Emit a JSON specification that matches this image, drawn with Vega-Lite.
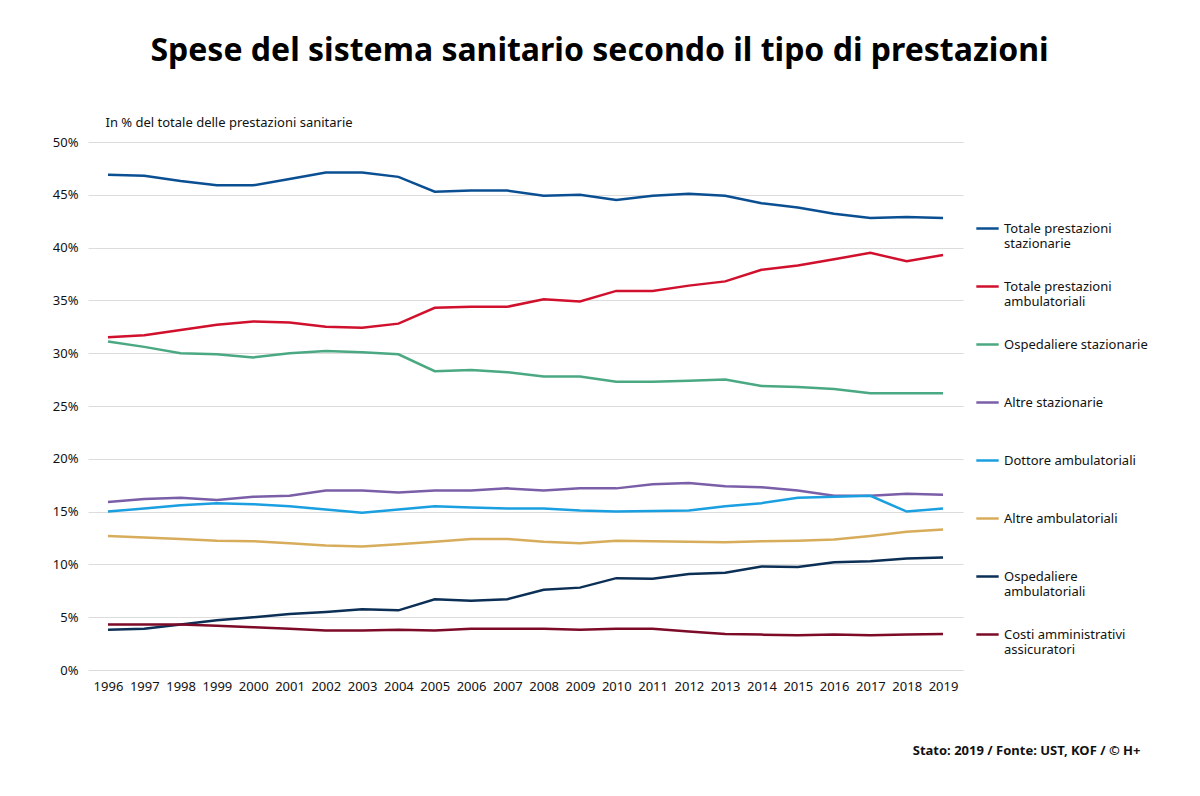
{
  "$schema": "https://vega.github.io/schema/vega-lite/v6.json",
  "width": 875,
  "height": 528,
  "autosize": {"type": "none"},
  "padding": {"left": 88, "top": 142, "right": 237, "bottom": 126},
  "background": "white",
  "config": {
    "view": {"stroke": null},
    "font": "Noto Sans"
  },
  "title": {
    "text": "Spese del sistema sanitario secondo il tipo di prestazioni",
    "font": "Noto Sans",
    "fontWeight": "bold",
    "fontSize": 32,
    "color": "#000000",
    "anchor": "middle",
    "frame": "group",
    "dx": 74,
    "offset": 48
  },
  "datasets": {
    "d": [
      {"s":"Totale prestazioni stazionarie","y":"1996","v":46.9},{"s":"Totale prestazioni stazionarie","y":"1997","v":46.8},{"s":"Totale prestazioni stazionarie","y":"1998","v":46.3},{"s":"Totale prestazioni stazionarie","y":"1999","v":45.9},{"s":"Totale prestazioni stazionarie","y":"2000","v":45.9},{"s":"Totale prestazioni stazionarie","y":"2001","v":46.5},{"s":"Totale prestazioni stazionarie","y":"2002","v":47.1},{"s":"Totale prestazioni stazionarie","y":"2003","v":47.1},{"s":"Totale prestazioni stazionarie","y":"2004","v":46.7},{"s":"Totale prestazioni stazionarie","y":"2005","v":45.3},{"s":"Totale prestazioni stazionarie","y":"2006","v":45.4},{"s":"Totale prestazioni stazionarie","y":"2007","v":45.4},{"s":"Totale prestazioni stazionarie","y":"2008","v":44.9},{"s":"Totale prestazioni stazionarie","y":"2009","v":45.0},{"s":"Totale prestazioni stazionarie","y":"2010","v":44.5},{"s":"Totale prestazioni stazionarie","y":"2011","v":44.9},{"s":"Totale prestazioni stazionarie","y":"2012","v":45.1},{"s":"Totale prestazioni stazionarie","y":"2013","v":44.9},{"s":"Totale prestazioni stazionarie","y":"2014","v":44.2},{"s":"Totale prestazioni stazionarie","y":"2015","v":43.8},{"s":"Totale prestazioni stazionarie","y":"2016","v":43.2},{"s":"Totale prestazioni stazionarie","y":"2017","v":42.8},{"s":"Totale prestazioni stazionarie","y":"2018","v":42.9},{"s":"Totale prestazioni stazionarie","y":"2019","v":42.8},
      {"s":"Totale prestazioni ambulatoriali","y":"1996","v":31.5},{"s":"Totale prestazioni ambulatoriali","y":"1997","v":31.7},{"s":"Totale prestazioni ambulatoriali","y":"1998","v":32.2},{"s":"Totale prestazioni ambulatoriali","y":"1999","v":32.7},{"s":"Totale prestazioni ambulatoriali","y":"2000","v":33.0},{"s":"Totale prestazioni ambulatoriali","y":"2001","v":32.9},{"s":"Totale prestazioni ambulatoriali","y":"2002","v":32.5},{"s":"Totale prestazioni ambulatoriali","y":"2003","v":32.4},{"s":"Totale prestazioni ambulatoriali","y":"2004","v":32.8},{"s":"Totale prestazioni ambulatoriali","y":"2005","v":34.3},{"s":"Totale prestazioni ambulatoriali","y":"2006","v":34.4},{"s":"Totale prestazioni ambulatoriali","y":"2007","v":34.4},{"s":"Totale prestazioni ambulatoriali","y":"2008","v":35.1},{"s":"Totale prestazioni ambulatoriali","y":"2009","v":34.9},{"s":"Totale prestazioni ambulatoriali","y":"2010","v":35.9},{"s":"Totale prestazioni ambulatoriali","y":"2011","v":35.9},{"s":"Totale prestazioni ambulatoriali","y":"2012","v":36.4},{"s":"Totale prestazioni ambulatoriali","y":"2013","v":36.8},{"s":"Totale prestazioni ambulatoriali","y":"2014","v":37.9},{"s":"Totale prestazioni ambulatoriali","y":"2015","v":38.3},{"s":"Totale prestazioni ambulatoriali","y":"2016","v":38.9},{"s":"Totale prestazioni ambulatoriali","y":"2017","v":39.5},{"s":"Totale prestazioni ambulatoriali","y":"2018","v":38.7},{"s":"Totale prestazioni ambulatoriali","y":"2019","v":39.3},
      {"s":"Ospedaliere stazionarie","y":"1996","v":31.1},{"s":"Ospedaliere stazionarie","y":"1997","v":30.6},{"s":"Ospedaliere stazionarie","y":"1998","v":30.0},{"s":"Ospedaliere stazionarie","y":"1999","v":29.9},{"s":"Ospedaliere stazionarie","y":"2000","v":29.6},{"s":"Ospedaliere stazionarie","y":"2001","v":30.0},{"s":"Ospedaliere stazionarie","y":"2002","v":30.2},{"s":"Ospedaliere stazionarie","y":"2003","v":30.1},{"s":"Ospedaliere stazionarie","y":"2004","v":29.9},{"s":"Ospedaliere stazionarie","y":"2005","v":28.3},{"s":"Ospedaliere stazionarie","y":"2006","v":28.4},{"s":"Ospedaliere stazionarie","y":"2007","v":28.2},{"s":"Ospedaliere stazionarie","y":"2008","v":27.8},{"s":"Ospedaliere stazionarie","y":"2009","v":27.8},{"s":"Ospedaliere stazionarie","y":"2010","v":27.3},{"s":"Ospedaliere stazionarie","y":"2011","v":27.3},{"s":"Ospedaliere stazionarie","y":"2012","v":27.4},{"s":"Ospedaliere stazionarie","y":"2013","v":27.5},{"s":"Ospedaliere stazionarie","y":"2014","v":26.9},{"s":"Ospedaliere stazionarie","y":"2015","v":26.8},{"s":"Ospedaliere stazionarie","y":"2016","v":26.6},{"s":"Ospedaliere stazionarie","y":"2017","v":26.2},{"s":"Ospedaliere stazionarie","y":"2018","v":26.2},{"s":"Ospedaliere stazionarie","y":"2019","v":26.2},
      {"s":"Altre stazionarie","y":"1996","v":15.9},{"s":"Altre stazionarie","y":"1997","v":16.2},{"s":"Altre stazionarie","y":"1998","v":16.3},{"s":"Altre stazionarie","y":"1999","v":16.1},{"s":"Altre stazionarie","y":"2000","v":16.4},{"s":"Altre stazionarie","y":"2001","v":16.5},{"s":"Altre stazionarie","y":"2002","v":17.0},{"s":"Altre stazionarie","y":"2003","v":17.0},{"s":"Altre stazionarie","y":"2004","v":16.8},{"s":"Altre stazionarie","y":"2005","v":17.0},{"s":"Altre stazionarie","y":"2006","v":17.0},{"s":"Altre stazionarie","y":"2007","v":17.2},{"s":"Altre stazionarie","y":"2008","v":17.0},{"s":"Altre stazionarie","y":"2009","v":17.2},{"s":"Altre stazionarie","y":"2010","v":17.2},{"s":"Altre stazionarie","y":"2011","v":17.6},{"s":"Altre stazionarie","y":"2012","v":17.7},{"s":"Altre stazionarie","y":"2013","v":17.4},{"s":"Altre stazionarie","y":"2014","v":17.3},{"s":"Altre stazionarie","y":"2015","v":17.0},{"s":"Altre stazionarie","y":"2016","v":16.5},{"s":"Altre stazionarie","y":"2017","v":16.5},{"s":"Altre stazionarie","y":"2018","v":16.7},{"s":"Altre stazionarie","y":"2019","v":16.6},
      {"s":"Dottore ambulatoriali","y":"1996","v":15.0},{"s":"Dottore ambulatoriali","y":"1997","v":15.3},{"s":"Dottore ambulatoriali","y":"1998","v":15.6},{"s":"Dottore ambulatoriali","y":"1999","v":15.8},{"s":"Dottore ambulatoriali","y":"2000","v":15.7},{"s":"Dottore ambulatoriali","y":"2001","v":15.5},{"s":"Dottore ambulatoriali","y":"2002","v":15.2},{"s":"Dottore ambulatoriali","y":"2003","v":14.9},{"s":"Dottore ambulatoriali","y":"2004","v":15.2},{"s":"Dottore ambulatoriali","y":"2005","v":15.5},{"s":"Dottore ambulatoriali","y":"2006","v":15.4},{"s":"Dottore ambulatoriali","y":"2007","v":15.3},{"s":"Dottore ambulatoriali","y":"2008","v":15.3},{"s":"Dottore ambulatoriali","y":"2009","v":15.1},{"s":"Dottore ambulatoriali","y":"2010","v":15.0},{"s":"Dottore ambulatoriali","y":"2011","v":15.05},{"s":"Dottore ambulatoriali","y":"2012","v":15.1},{"s":"Dottore ambulatoriali","y":"2013","v":15.5},{"s":"Dottore ambulatoriali","y":"2014","v":15.8},{"s":"Dottore ambulatoriali","y":"2015","v":16.3},{"s":"Dottore ambulatoriali","y":"2016","v":16.4},{"s":"Dottore ambulatoriali","y":"2017","v":16.5},{"s":"Dottore ambulatoriali","y":"2018","v":15.0},{"s":"Dottore ambulatoriali","y":"2019","v":15.3},
      {"s":"Altre ambulatoriali","y":"1996","v":12.7},{"s":"Altre ambulatoriali","y":"1997","v":12.55},{"s":"Altre ambulatoriali","y":"1998","v":12.4},{"s":"Altre ambulatoriali","y":"1999","v":12.25},{"s":"Altre ambulatoriali","y":"2000","v":12.2},{"s":"Altre ambulatoriali","y":"2001","v":12.0},{"s":"Altre ambulatoriali","y":"2002","v":11.8},{"s":"Altre ambulatoriali","y":"2003","v":11.7},{"s":"Altre ambulatoriali","y":"2004","v":11.9},{"s":"Altre ambulatoriali","y":"2005","v":12.15},{"s":"Altre ambulatoriali","y":"2006","v":12.4},{"s":"Altre ambulatoriali","y":"2007","v":12.4},{"s":"Altre ambulatoriali","y":"2008","v":12.15},{"s":"Altre ambulatoriali","y":"2009","v":12.0},{"s":"Altre ambulatoriali","y":"2010","v":12.25},{"s":"Altre ambulatoriali","y":"2011","v":12.2},{"s":"Altre ambulatoriali","y":"2012","v":12.15},{"s":"Altre ambulatoriali","y":"2013","v":12.1},{"s":"Altre ambulatoriali","y":"2014","v":12.2},{"s":"Altre ambulatoriali","y":"2015","v":12.25},{"s":"Altre ambulatoriali","y":"2016","v":12.35},{"s":"Altre ambulatoriali","y":"2017","v":12.7},{"s":"Altre ambulatoriali","y":"2018","v":13.1},{"s":"Altre ambulatoriali","y":"2019","v":13.3},
      {"s":"Ospedaliere ambulatoriali","y":"1996","v":3.8},{"s":"Ospedaliere ambulatoriali","y":"1997","v":3.9},{"s":"Ospedaliere ambulatoriali","y":"1998","v":4.3},{"s":"Ospedaliere ambulatoriali","y":"1999","v":4.7},{"s":"Ospedaliere ambulatoriali","y":"2000","v":5.0},{"s":"Ospedaliere ambulatoriali","y":"2001","v":5.3},{"s":"Ospedaliere ambulatoriali","y":"2002","v":5.5},{"s":"Ospedaliere ambulatoriali","y":"2003","v":5.75},{"s":"Ospedaliere ambulatoriali","y":"2004","v":5.65},{"s":"Ospedaliere ambulatoriali","y":"2005","v":6.7},{"s":"Ospedaliere ambulatoriali","y":"2006","v":6.55},{"s":"Ospedaliere ambulatoriali","y":"2007","v":6.7},{"s":"Ospedaliere ambulatoriali","y":"2008","v":7.6},{"s":"Ospedaliere ambulatoriali","y":"2009","v":7.8},{"s":"Ospedaliere ambulatoriali","y":"2010","v":8.7},{"s":"Ospedaliere ambulatoriali","y":"2011","v":8.65},{"s":"Ospedaliere ambulatoriali","y":"2012","v":9.1},{"s":"Ospedaliere ambulatoriali","y":"2013","v":9.2},{"s":"Ospedaliere ambulatoriali","y":"2014","v":9.8},{"s":"Ospedaliere ambulatoriali","y":"2015","v":9.75},{"s":"Ospedaliere ambulatoriali","y":"2016","v":10.2},{"s":"Ospedaliere ambulatoriali","y":"2017","v":10.3},{"s":"Ospedaliere ambulatoriali","y":"2018","v":10.55},{"s":"Ospedaliere ambulatoriali","y":"2019","v":10.65},
      {"s":"Costi amministrativi assicuratori","y":"1996","v":4.3},{"s":"Costi amministrativi assicuratori","y":"1997","v":4.3},{"s":"Costi amministrativi assicuratori","y":"1998","v":4.3},{"s":"Costi amministrativi assicuratori","y":"1999","v":4.2},{"s":"Costi amministrativi assicuratori","y":"2000","v":4.05},{"s":"Costi amministrativi assicuratori","y":"2001","v":3.9},{"s":"Costi amministrativi assicuratori","y":"2002","v":3.75},{"s":"Costi amministrativi assicuratori","y":"2003","v":3.75},{"s":"Costi amministrativi assicuratori","y":"2004","v":3.8},{"s":"Costi amministrativi assicuratori","y":"2005","v":3.75},{"s":"Costi amministrativi assicuratori","y":"2006","v":3.9},{"s":"Costi amministrativi assicuratori","y":"2007","v":3.9},{"s":"Costi amministrativi assicuratori","y":"2008","v":3.9},{"s":"Costi amministrativi assicuratori","y":"2009","v":3.8},{"s":"Costi amministrativi assicuratori","y":"2010","v":3.9},{"s":"Costi amministrativi assicuratori","y":"2011","v":3.9},{"s":"Costi amministrativi assicuratori","y":"2012","v":3.65},{"s":"Costi amministrativi assicuratori","y":"2013","v":3.4},{"s":"Costi amministrativi assicuratori","y":"2014","v":3.35},{"s":"Costi amministrativi assicuratori","y":"2015","v":3.3},{"s":"Costi amministrativi assicuratori","y":"2016","v":3.35},{"s":"Costi amministrativi assicuratori","y":"2017","v":3.3},{"s":"Costi amministrativi assicuratori","y":"2018","v":3.35},{"s":"Costi amministrativi assicuratori","y":"2019","v":3.4}
    ]
  },
  "data": {"name": "d"},
  "mark": {"type": "line", "strokeWidth": 2.5, "interpolate": "linear"},
  "encoding": {
    "x": {
      "field": "y",
      "type": "ordinal",
      "scale": {"type": "point", "padding": 0.55},
      "axis": {
        "labelAngle": 0,
        "labelFont": "Noto Sans",
        "labelFontSize": 13,
        "labelColor": "#111111",
        "labelPadding": 10,
        "ticks": false,
        "domain": false,
        "grid": false,
        "title": "Stato: 2019 / Fonte: UST, KOF / © H+",
        "titleFont": "Noto Sans",
        "titleFontSize": 13,
        "titleFontWeight": "bold",
        "titleColor": "#111111",
        "titleAnchor": "end",
        "titleAlign": "right",
        "titleBaseline": "middle",
        "titleX": 1052,
        "titleY": 80
      }
    },
    "y": {
      "field": "v",
      "type": "quantitative",
      "scale": {"domain": [0, 50], "nice": false},
      "axis": {
        "values": [0, 5, 10, 15, 20, 25, 30, 35, 40, 45, 50],
        "labelExpr": "datum.value + '%'",
        "labelFont": "Noto Sans",
        "labelFontSize": 13,
        "labelColor": "#111111",
        "labelPadding": 10,
        "ticks": false,
        "domain": false,
        "gridColor": "#dcdcdc",
        "gridWidth": 1,
        "title": "In % del totale delle prestazioni sanitarie",
        "titleFont": "Noto Sans",
        "titleFontSize": 13,
        "titleFontWeight": "normal",
        "titleColor": "#111111",
        "titleAngle": 0,
        "titleAlign": "left",
        "titleBaseline": "middle",
        "titleX": 17,
        "titleY": -20
      }
    },
    "color": {
      "field": "s",
      "type": "nominal",
      "scale": {
        "domain": ["Totale prestazioni stazionarie", "Totale prestazioni ambulatoriali", "Ospedaliere stazionarie", "Altre stazionarie", "Dottore ambulatoriali", "Altre ambulatoriali", "Ospedaliere ambulatoriali", "Costi amministrativi assicuratori"],
        "range": ["#0b4f93", "#d0102d", "#4aa882", "#7a5ea8", "#1a9fe0", "#d7ad5b", "#0b2f55", "#7d0a26"]
      },
      "legend": {
        "orient": "none",
        "legendX": 887,
        "legendY": 74,
        "title": null,
        "symbolType": "stroke",
        "symbolStrokeWidth": 2.5,
        "symbolSize": 500,
        "labelFont": "Noto Sans",
        "labelFontSize": 13,
        "labelColor": "#111111",
        "labelBaseline": "middle",
        "labelOffset": 4,
        "labelLimit": 300,
        "rowPadding": 23,
        "labelExpr": "datum.label == 'Totale prestazioni stazionarie' ? ['Totale prestazioni', 'stazionarie'] : datum.label == 'Totale prestazioni ambulatoriali' ? ['Totale prestazioni', 'ambulatoriali'] : datum.label == 'Ospedaliere ambulatoriali' ? ['Ospedaliere', 'ambulatoriali'] : datum.label == 'Costi amministrativi assicuratori' ? ['Costi amministrativi', 'assicuratori'] : [datum.label, '']"
      }
    }
  }
}
